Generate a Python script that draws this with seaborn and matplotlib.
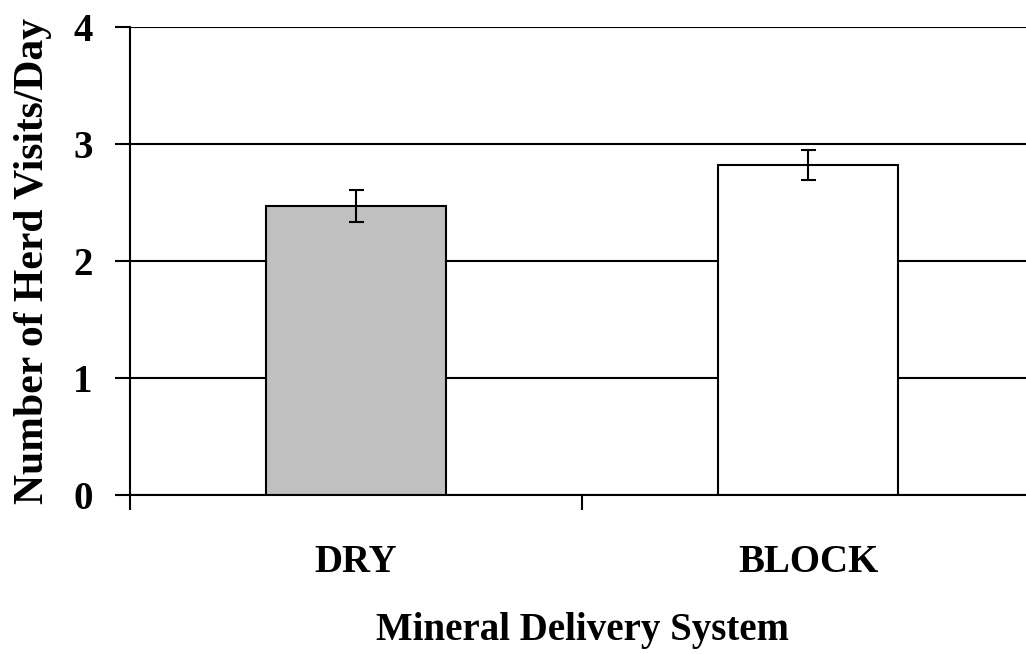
import pandas as pd
import numpy as np
import matplotlib
matplotlib.use("Agg")
import matplotlib.pyplot as plt
import seaborn as sns

sns.set_style("white")
plt.rcParams["font.family"] = ["Liberation Serif", "DejaVu Serif"]
plt.rcParams["font.weight"] = "bold"
plt.rcParams["axes.labelweight"] = "bold"
plt.rcParams["text.color"] = "black"
plt.rcParams["axes.labelcolor"] = "black"
plt.rcParams["xtick.color"] = "black"
plt.rcParams["ytick.color"] = "black"

# 数据
systems = ["DRY", "BLOCK"]
visits = [2.47, 2.82]
se = [0.137, 0.125]
bar_colors = ["#C0C0C0", "#FFFFFF"]

df = pd.DataFrame({"system": systems, "visits": visits})

fig = plt.figure(figsize=(10.26, 6.54), dpi=100)
ax = fig.add_axes([130 / 1026, 0.2431, 904 / 1026, 0.7156])

ax.set_axisbelow(True)
ax.grid(axis="y", color="black", linewidth=1.5)
ax.grid(axis="x", visible=False)

sns.barplot(
    data=df, x="system", y="visits", hue="system",
    palette=dict(zip(systems, bar_colors)), order=systems,
    width=0.4, errorbar=None, legend=False,
    edgecolor="black", linewidth=1.5, ax=ax,
)
ax.errorbar(np.arange(len(systems)), visits, yerr=se, fmt="none",
            ecolor="black", elinewidth=1.5, capsize=5.4, capthick=1.5)

ax.set_xlim(-0.5, 1.5)
ax.set_ylim(0, 4)
ax.set_yticks([0, 1, 2, 3, 4])

for s in ["top", "right"]:
    ax.spines[s].set_visible(False)
for s in ["left", "bottom"]:
    ax.spines[s].set_color("black")
    ax.spines[s].set_linewidth(1.5)

ax.set_xticks([-0.5, 0.5, 1.5], minor=True)
ax.tick_params(axis="x", which="major", bottom=True, length=0, pad=35, labelsize=28)
ax.tick_params(axis="x", which="minor", bottom=True, length=10.8, width=1.5,
               direction="out", color="black")
ax.tick_params(axis="y", left=True, length=10.8, width=1.5, direction="out",
               color="black", pad=16, labelsize=28)
for lab in ax.get_xticklabels() + ax.get_yticklabels():
    lab.set_fontweight("bold")

ax.set_xlabel("Mineral Delivery System", fontsize=28, fontweight="bold")
ax.set_ylabel("Number of Herd Visits/Day", fontsize=30, fontweight="bold",
              family="Liberation Serif")
ax.yaxis.label.set_fontweight("heavy")
ax.xaxis.set_label_coords(0.5, -0.25)
ax.yaxis.set_label_coords(-0.086, 0.5)

fig.savefig("out.png", dpi=100)
